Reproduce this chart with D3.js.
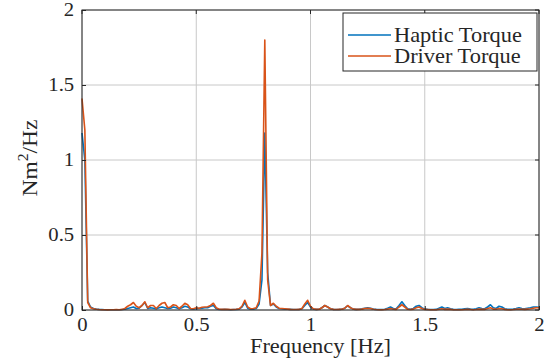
<!DOCTYPE html>
<html>
<head>
<meta charset="utf-8">
<script src="https://cdn.jsdelivr.net/npm/d3@7"></script>
</head>
<body style="margin:0; background:#fff">
<svg id="chart"></svg>
<script>
// FFT bins, 0.0125 Hz apart, 0..2 Hz
const freqStep = 0.0125;
const hapticTorque = [
  1.18, 1.0, 0.06, 0.02, 0.01, 0.006, 0.004, 0.003, 0.002, 0.002,
  0.002, 0.002, 0.002, 0.002, 0.003, 0.005, 0.01, 0.015, 0.02, 0.01,
  0.012, 0.03, 0.05, 0.01, 0.015, 0.012, 0.008, 0.015, 0.02, 0.015,
  0.01, 0.012, 0.02, 0.015, 0.008, 0.015, 0.025, 0.02, 0.008, 0.005,
  0.01, 0.01, 0.012, 0.015, 0.015, 0.025, 0.03, 0.008, 0.004, 0.003,
  0.004, 0.003, 0.002, 0.003, 0.004, 0.006, 0.02, 0.05, 0.012, 0.005,
  0.006, 0.01, 0.04, 0.2, 1.18, 0.25, 0.03, 0.04, 0.02, 0.01,
  0.008, 0.006, 0.005, 0.004, 0.003, 0.003, 0.004, 0.008, 0.03, 0.05,
  0.02, 0.006, 0.004, 0.005, 0.015, 0.03, 0.02, 0.008, 0.004, 0.003,
  0.004, 0.006, 0.012, 0.028, 0.015, 0.006, 0.004, 0.005, 0.008, 0.012,
  0.015, 0.012, 0.006, 0.004, 0.003, 0.003, 0.005, 0.012, 0.02, 0.01,
  0.008, 0.03, 0.055, 0.03, 0.008, 0.005, 0.01, 0.025, 0.03, 0.015,
  0.006, 0.004, 0.003, 0.003, 0.004, 0.012, 0.02, 0.01, 0.015, 0.008,
  0.004, 0.003, 0.004, 0.005, 0.008, 0.01, 0.006, 0.004, 0.008, 0.015,
  0.01, 0.008, 0.02, 0.035, 0.015, 0.01, 0.025, 0.02, 0.008, 0.005,
  0.004, 0.006, 0.01, 0.015, 0.01, 0.008, 0.012, 0.015, 0.02, 0.02,
  0.018
];
const driverTorque = [
  1.41, 1.2, 0.05, 0.015, 0.008, 0.005, 0.003, 0.002, 0.002, 0.001,
  0.002, 0.002, 0.003, 0.002, 0.004, 0.01, 0.025, 0.035, 0.05, 0.025,
  0.015, 0.03, 0.055, 0.015, 0.03, 0.03, 0.01, 0.03, 0.045, 0.05,
  0.015, 0.02, 0.035, 0.03, 0.01, 0.025, 0.045, 0.035, 0.01, 0.008,
  0.015, 0.012, 0.018, 0.02, 0.022, 0.03, 0.045, 0.015, 0.005, 0.004,
  0.005, 0.004, 0.003, 0.003, 0.005, 0.008, 0.025, 0.065, 0.02, 0.008,
  0.01, 0.015, 0.06, 0.38, 1.80, 0.2, 0.03, 0.045, 0.025, 0.012,
  0.01, 0.008, 0.006, 0.004, 0.003, 0.003, 0.004, 0.01, 0.04, 0.065,
  0.025, 0.008, 0.004, 0.005, 0.015, 0.03, 0.02, 0.008, 0.004, 0.003,
  0.004, 0.005, 0.012, 0.03, 0.015, 0.006, 0.004, 0.004, 0.006, 0.01,
  0.012, 0.01, 0.005, 0.003, 0.002, 0.002, 0.003, 0.006, 0.01, 0.005,
  0.004, 0.02, 0.035, 0.02, 0.005, 0.003, 0.006, 0.015, 0.02, 0.01,
  0.004, 0.003, 0.002, 0.002, 0.002, 0.005, 0.008, 0.004, 0.006, 0.004,
  0.002, 0.002, 0.002, 0.002, 0.003, 0.004, 0.003, 0.002, 0.003, 0.006,
  0.004, 0.004, 0.01, 0.015, 0.006, 0.005, 0.01, 0.008, 0.004, 0.002,
  0.002, 0.003, 0.005, 0.006, 0.005, 0.004, 0.006, 0.008, 0.012, 0.015,
  0.015
];
const xTicks = [0, 0.5, 1, 1.5, 2];
const yTicks = [0, 0.5, 1, 1.5, 2];
const seriesNames = ["Haptic Torque", "Driver Torque"];
const seriesColors = ["#0072BD", "#D95319"];

const width = 550, height = 358;
const margin = { top: 10, right: 11, bottom: 48, left: 82 };
const w = width - margin.left - margin.right;
const h = height - margin.top - margin.bottom;
const font = "Liberation Serif";
const ink = "#262626";
// the reference text is a bit wider than it is tall
const stretch = "scale(1.12,1)";

const svg = d3.select("#chart").attr("width", width).attr("height", height)
  .attr("font-family", font);
const g = svg.append("g").attr("transform", "translate(" + margin.left + "," + margin.top + ")");

const x = d3.scaleLinear().domain([0, 2]).range([0, w]);
const y = d3.scaleLinear().domain([0, 2]).range([h, 0]);

// grid
g.append("g").selectAll("line").data(xTicks).enter().append("line")
  .attr("x1", d => x(d)).attr("x2", d => x(d)).attr("y1", 0).attr("y2", h)
  .attr("stroke", "#c8c8c8").attr("stroke-width", 1);
g.append("g").selectAll("line").data(yTicks).enter().append("line")
  .attr("y1", d => y(d)).attr("y2", d => y(d)).attr("x1", 0).attr("x2", w)
  .attr("stroke", "#c8c8c8").attr("stroke-width", 1);

// lines
const series = [hapticTorque, driverTorque];
const line = d3.line().x((d, i) => x(i * freqStep)).y(d => y(d));
series.forEach((s, k) => {
  g.append("path").datum(s).attr("d", line)
    .attr("fill", "none").attr("stroke", seriesColors[k])
    .attr("stroke-width", 1.6).attr("stroke-linejoin", "round");
});

// axes
const xAxis = g.append("g").attr("transform", "translate(0," + h + ")")
  .call(d3.axisBottom(x).tickValues(xTicks).tickFormat(d3.format("")).tickSize(-4).tickPadding(8));
const yAxis = g.append("g")
  .call(d3.axisLeft(y).tickValues(yTicks).tickFormat(d3.format("")).tickSize(-4).tickPadding(7));
[xAxis, yAxis].forEach(a => {
  a.attr("font-family", font).attr("font-size", 18.5);
  a.select(".domain").remove();
  a.selectAll("line").attr("stroke", ink);
  a.selectAll("text").attr("fill", ink).attr("font-family", font).attr("transform", stretch);
});
// top/right ticks
g.append("g").selectAll("line").data(xTicks).enter().append("line")
  .attr("x1", d => x(d)).attr("x2", d => x(d)).attr("y1", 0).attr("y2", 4).attr("stroke", ink);
g.append("g").selectAll("line").data(yTicks).enter().append("line")
  .attr("y1", d => y(d)).attr("y2", d => y(d)).attr("x1", w).attr("x2", w - 4).attr("stroke", ink);

g.append("rect").attr("width", w).attr("height", h)
  .attr("fill", "none").attr("stroke", ink).attr("stroke-width", 1);

// axis labels
g.append("g").attr("transform", "translate(" + (w / 2 + 10) + "," + (h + 43) + ")")
  .append("text").attr("transform", stretch).attr("text-anchor", "middle")
  .attr("font-family", font).attr("font-size", 20).attr("fill", ink).text("Frequency [Hz]");
const yl = svg.append("g").attr("transform", "translate(37," + (margin.top + h / 2 - 2) + ") rotate(-90)")
  .append("text").attr("transform", stretch).attr("text-anchor", "middle")
  .attr("font-family", font).attr("font-size", 21).attr("fill", ink);
yl.append("tspan").text("Nm");
yl.append("tspan").attr("dy", -9).attr("font-size", 14).text("2");
yl.append("tspan").attr("dy", 9).text("/Hz");

// legend
const lg = g.append("g").attr("transform", "translate(" + (w - 196) + ",3)");
lg.append("rect").attr("width", 194).attr("height", 58)
  .attr("fill", "#fff").attr("stroke", ink).attr("stroke-width", 1);
seriesNames.forEach((n, k) => {
  const yy = 22 + k * 21;
  lg.append("line").attr("x1", 5).attr("x2", 48).attr("y1", yy).attr("y2", yy)
    .attr("stroke", seriesColors[k]).attr("stroke-width", 1.6);
  lg.append("g").attr("transform", "translate(51," + yy + ")")
    .append("text").attr("transform", stretch).attr("dy", "0.33em")
    .attr("font-family", font).attr("font-size", 20).attr("fill", ink).text(n);
});
</script>
</body>
</html>
